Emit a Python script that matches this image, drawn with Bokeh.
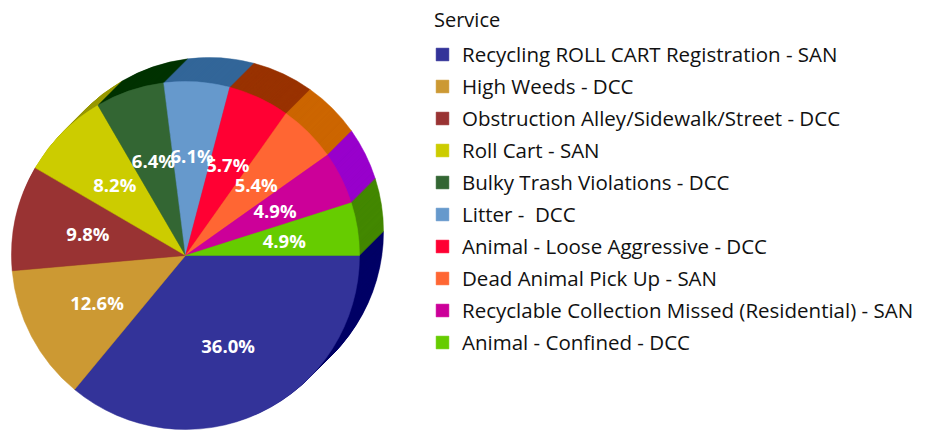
import numpy as np
from bokeh.plotting import figure
from bokeh.models import Range1d, ColumnDataSource, Legend, LegendItem
from bokeh.embed import file_html
from bokeh.resources import INLINE
from bokeh.core.properties import value

services = [
    "Recycling ROLL CART Registration - SAN",
    "High Weeds - DCC",
    "Obstruction Alley/Sidewalk/Street - DCC",
    "Roll Cart - SAN",
    "Bulky Trash Violations - DCC",
    "Litter -  DCC",
    "Animal - Loose Aggressive - DCC",
    "Dead Animal Pick Up - SAN",
    "Recyclable Collection Missed (Residential) - SAN",
    "Animal - Confined - DCC",
]
shares = [36.0, 12.6, 9.8, 8.2, 6.4, 6.1, 5.7, 5.4, 4.9, 4.9]
colors = ["#333399", "#CC9933", "#993333", "#CCCC00", "#336633",
          "#6699CC", "#FF0033", "#FF6633", "#CC0099", "#66CC00"]
side_colors = ["#000066", "#996600", "#660000", "#999900", "#003300",
               "#336699", "#993300", "#CC6600", "#9900CC", "#448800"]

W, H = 931, 432
CX, CY, R = 185, 177, 174
DEPTH = 24
FONT = "Open Sans"

frac = np.array(shares) / sum(shares)
cum = np.cumsum(frac)
prev = np.concatenate([[0.0], cum[:-1]])
start = -2 * np.pi * cum
end = -2 * np.pi * prev
mid = (start + end) / 2

p = figure(width=W, height=H, x_range=Range1d(0, W), y_range=Range1d(0, H),
           output_backend="svg", toolbar_location=None, min_border=0,
           x_axis_location=None, y_axis_location=None)
p.grid.visible = False
p.outline_line_color = None
p.background_fill_color = "white"

# extruded side (stacked shifted copies, back to front)
sx, sy, ss, se, sc = [], [], [], [], []
for k in range(DEPTH, 0, -1):
    for i in range(len(shares)):
        sx.append(CX + k); sy.append(CY + k)
        ss.append(start[i]); se.append(end[i]); sc.append(side_colors[i])
side = ColumnDataSource(dict(x=sx, y=sy, s=ss, e=se, c=sc))
p.wedge(x="x", y="y", radius=R, start_angle="s", end_angle="e",
        fill_color="c", line_color="c", line_width=0.5, source=side)

front_src = ColumnDataSource(dict(
    x=[CX] * len(shares), y=[CY] * len(shares), s=start, e=end,
    c=colors, name=services))
front = p.wedge(x="x", y="y", radius=R, start_angle="s", end_angle="e",
                fill_color="c", line_color="c", line_width=0.5, source=front_src)

LR = 100
lab = ColumnDataSource(dict(
    x=CX + LR * np.cos(mid), y=CY + LR * np.sin(mid),
    t=[f"{v:.1f}%" for v in shares]))
p.text(x="x", y="y", text="t", source=lab, text_color="white",
       text_font=value(FONT), text_font_style="bold", text_font_size="18.5px",
       text_align="center", text_baseline="middle")

legend = Legend(
    items=[LegendItem(label=services[i], renderers=[front], index=i)
           for i in range(len(services))],
    location=(434, 76),
    title="Service", title_text_font=FONT, title_text_font_size="20px",
    title_text_font_style="normal",
    title_text_color="#111111", title_standoff=7,
    label_text_font=FONT, label_text_font_size="20.5px",
    label_text_color="#111111", label_standoff=12,
    glyph_width=16, glyph_height=16, label_height=20, spacing=4,
    padding=0, margin=0, border_line_color=None, background_fill_alpha=0,
)
p.add_layout(legend)

open("out.html", "w").write(file_html(p, INLINE))
